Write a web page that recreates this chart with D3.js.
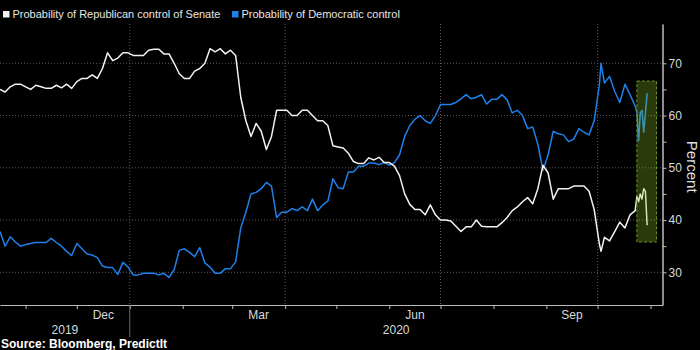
<!DOCTYPE html>
<html lang="en">
<head>
<meta charset="UTF-8">
<title>Senate control odds</title>
<style>
  body { margin: 0; background: #000; }
  svg { display: block; background: #000; font-family: "Liberation Sans", Arial, sans-serif; }
</style>
</head>
<body>
<div id="chart"></div>
<script src="https://cdn.jsdelivr.net/npm/d3@7"></script>
<script>
var width = 700;
var height = 350;

// days counted from the first observation (17 Oct 2019)
var startDate = new Date(2019, 9, 17);
var dayOffsets = [
    0, 3, 6, 9, 12, 15, 18, 21, 24, 27,
    30, 33, 36, 39, 42, 45, 48, 51, 54, 57,
    60, 63, 66, 69, 72, 75, 78, 81, 84, 87,
    90, 93, 96, 99, 102, 105, 108, 111, 114, 117,
    120, 123, 126, 129, 132, 135, 138, 141, 144, 147,
    150, 153, 156, 159, 162, 165, 168, 171, 174, 177,
    180, 183, 186, 189, 192, 195, 198, 201, 204, 207,
    210, 213, 216, 219, 222, 225, 228, 231, 234, 237,
    240, 243, 246, 249, 252, 255, 258, 261, 264, 267,
    270, 273, 276, 279, 282, 285, 288, 291, 294, 297,
    300, 303, 306, 309, 312, 315, 318, 321, 324, 327,
    330, 333, 336, 339, 342, 345, 348, 351, 352, 354,
    357, 360, 363, 366, 369, 372, 373, 374, 375, 376,
    377, 378, 379
];

var republican = [
    65, 64.5, 65.5, 66, 66, 65.5, 65, 65.8, 65.5, 65.2,
    65.2, 65.8, 65.3, 66, 65.2, 66.5, 67.1, 67.1, 67.8, 67.1,
    69, 72, 70.5, 71, 72, 72, 71.5, 71.5, 71.5, 72.5,
    72.7, 72.7, 71.8, 71.8, 70, 68, 67.1, 67.1, 68.5, 69,
    70, 72.8, 72.2, 72.8, 71.8, 72.5, 71.5, 63.5, 59, 56,
    58.5, 57, 53.5, 56, 61, 61, 61, 60, 60, 61,
    61, 60, 59, 59, 58.1, 54.2, 54, 53.8, 52.8, 51.2,
    50.8, 50.8, 51.9, 51.5, 52, 51, 51, 50.3, 48.5, 45,
    43, 42, 42, 41, 42.9, 41, 40, 40, 39.8, 38.8,
    37.8, 38.7, 38.7, 40, 38.8, 38.7, 38.7, 38.7, 39.5, 40.5,
    41.8, 42.5, 43.5, 44.3, 43.1, 46, 50.5, 49, 44, 46,
    46, 46, 46.5, 46.5, 46.5, 45.5, 42, 35.5, 34, 36.7,
    36, 37.8, 39.6, 38.5, 41, 41.8, 44.5, 43.5, 45, 44,
    46, 45.5, 39
];

var democratic = [
    37.8, 35, 36.8, 35.8, 35, 35.3, 35.5, 35.7, 35.7, 35.7,
    36.5, 35.7, 35, 34, 33.2, 35.5, 34.5, 33.5, 33.3, 32.8,
    31.2, 30.9, 30.9, 29.6, 31.9, 31, 29.5, 29.5, 29.8, 29.8,
    29.8, 29.5, 29.8, 29, 30.5, 34.2, 34.5, 33.8, 33, 34.7,
    31.8, 31, 29.8, 29.8, 30.7, 30.7, 32, 38.5, 41.5, 45,
    45.3, 46, 47.2, 46.5, 40.5, 41.5, 41.5, 42.2, 41.8, 42.5,
    41.8, 44, 41.8, 42.9, 43.6, 47.9, 46.2, 46, 49.2, 49.2,
    50.3, 50.3, 50.9, 50.9, 50.6, 51, 50.5, 51, 52.5, 56,
    58.1, 59.3, 60, 59, 58.5, 60, 62.1, 62.1, 62.1, 62.5,
    63.2, 64, 63.2, 63.5, 64, 62.2, 63.1, 63.1, 64, 63,
    60.5, 61, 60, 57.5, 57.8, 54.5, 49.5, 52.5, 57, 56.5,
    56.3, 55, 55.5, 57.5, 56.8, 56.3, 59, 65.8, 70, 66.2,
    67.5, 64.6, 62.5, 66, 64, 61.8, 60.5, 55.2, 60.5, 61,
    56.8, 60.5, 64.3
];

var seriesNames = ['Probability of Republican control of Senate', 'Probability of Democratic control'];
var seriesColors = ['#f2f2f2', '#1f80e8'];

var yTicks = [30, 40, 50, 60, 70];
var yMinorTicks = [35, 45, 55, 65];
var monthLabels = [new Date(2019, 11, 1), new Date(2020, 2, 1), new Date(2020, 5, 1), new Date(2020, 8, 1)];
var yearLabels = ['2019', '2020'];
var quarterLines = [new Date(2020, 0, 1), new Date(2020, 3, 1), new Date(2020, 6, 1), new Date(2020, 9, 1)];

// shaded box around the last week
var highlight = { from: new Date(2020, 9, 24), to: new Date(2020, 10, 4, 12), top: 66.6, bottom: 35.8 };

var svg = d3.select('#chart')
    .append('svg')
    .attr('width', width)
    .attr('height', height);

var x = d3.scaleTime()
    .domain([new Date(2019, 9, 17), new Date(2020, 10, 8)])
    .range([0, 662.5]);

var y = d3.scaleLinear()
    .domain([23.74, 77.52])
    .range([305, 24]);

// grid
svg.append('g')
    .selectAll('line')
    .data(yTicks)
    .join('line')
    .attr('x1', 0)
    .attr('x2', x.range()[1])
    .attr('y1', function(d) { return y(d); })
    .attr('y2', function(d) { return y(d); })
    .attr('stroke', '#5a5a5a')
    .attr('stroke-dasharray', '1,2');

svg.append('g')
    .selectAll('line')
    .data(quarterLines)
    .join('line')
    .attr('x1', function(d) { return x(d); })
    .attr('x2', function(d) { return x(d); })
    .attr('y1', y.range()[1])
    .attr('y2', y.range()[0])
    .attr('stroke', '#5a5a5a')
    .attr('stroke-dasharray', '1,2');

// lines
var rows = dayOffsets.map(function(d, i) {
    return { date: d3.timeDay.offset(startDate, d), rep: republican[i], dem: democratic[i] };
});

var line = d3.line()
    .x(function(d) { return x(d.date); });

svg.append('path')
    .datum(rows)
    .attr('fill', 'none')
    .attr('stroke', seriesColors[1])
    .attr('stroke-width', 1.5)
    .attr('stroke-linejoin', 'round')
    .attr('d', line.y(function(d) { return y(d.dem); }));

svg.append('path')
    .datum(rows)
    .attr('fill', 'none')
    .attr('stroke', seriesColors[0])
    .attr('stroke-width', 1.5)
    .attr('stroke-linejoin', 'round')
    .attr('d', line.y(function(d) { return y(d.rep); }));

// highlight box
svg.append('rect')
    .attr('x', x(highlight.from))
    .attr('y', y(highlight.top))
    .attr('width', x(highlight.to) - x(highlight.from))
    .attr('height', y(highlight.bottom) - y(highlight.top))
    .attr('fill', 'rgba(143,193,43,0.3)')
    .attr('stroke', '#6e9420')
    .attr('stroke-dasharray', '3,2');

// right axis
var yAxis = svg.append('g')
    .attr('transform', 'translate(' + x.range()[1] + ',0)')
    .call(d3.axisRight(y).tickValues(yTicks).tickSize(4).tickSizeOuter(0).tickPadding(2));

svg.append('g')
    .attr('transform', 'translate(' + x.range()[1] + ',0)')
    .call(d3.axisRight(y).tickValues(yMinorTicks).tickSize(4).tickSizeOuter(0).tickFormat(''));

// bottom axis
var xAxis = svg.append('g')
    .attr('transform', 'translate(0,305)')
    .call(d3.axisBottom(x).ticks(d3.timeMonth.every(1)).tickSize(4).tickSizeOuter(0).tickFormat(''));

svg.selectAll('.domain, .tick line').attr('stroke', '#bdbdbd');
yAxis.selectAll('text')
    .attr('fill', '#d9d9d9')
    .attr('font-size', 12)
    .attr('font-family', '"Liberation Sans", Arial, sans-serif');

svg.append('line')
    .attr('x1', x(quarterLines[0]))
    .attr('x2', x(quarterLines[0]))
    .attr('y1', 305)
    .attr('y2', 337)
    .attr('stroke', '#6a6a6a');

svg.append('g')
    .selectAll('text')
    .data(monthLabels)
    .join('text')
    .attr('x', function(d) { return (x(d) + x(d3.timeMonth.offset(d, 1))) / 2; })
    .attr('y', 319)
    .attr('text-anchor', 'middle')
    .attr('fill', '#d9d9d9')
    .attr('font-size', 12)
    .text(d3.timeFormat('%b'));

var yearBounds = [x.range()[0], x(quarterLines[0]), x.range()[1]];
svg.append('g')
    .selectAll('text')
    .data(yearLabels)
    .join('text')
    .attr('x', function(d, i) { return (yearBounds[i] + yearBounds[i + 1]) / 2; })
    .attr('y', 334)
    .attr('text-anchor', 'middle')
    .attr('fill', '#d9d9d9')
    .attr('font-size', 12)
    .text(function(d) { return d; });

svg.append('text')
    .attr('transform', 'translate(687,166.7) rotate(90)')
    .attr('text-anchor', 'middle')
    .attr('fill', '#e0e0e0')
    .attr('font-size', 15)
    .text('Percent');

svg.append('text')
    .attr('x', 1)
    .attr('y', 348)
    .attr('fill', '#ffffff')
    .attr('font-size', 12)
    .attr('font-weight', 'bold')
    .text('Source: Bloomberg, PredictIt');

// legend
var legendX = [3, 232];
var legend = svg.append('g')
    .selectAll('g')
    .data(seriesNames)
    .join('g')
    .attr('transform', function(d, i) { return 'translate(' + legendX[i] + ',0)'; });

legend.append('rect')
    .attr('y', 11)
    .attr('width', 6.5)
    .attr('height', 6.5)
    .attr('fill', function(d, i) { return seriesColors[i]; });

legend.append('text')
    .attr('x', 9.5)
    .attr('y', 18)
    .attr('fill', '#e6e6e6')
    .attr('font-size', 11)
    .text(function(d) { return d; });
</script>
</body>
</html>
